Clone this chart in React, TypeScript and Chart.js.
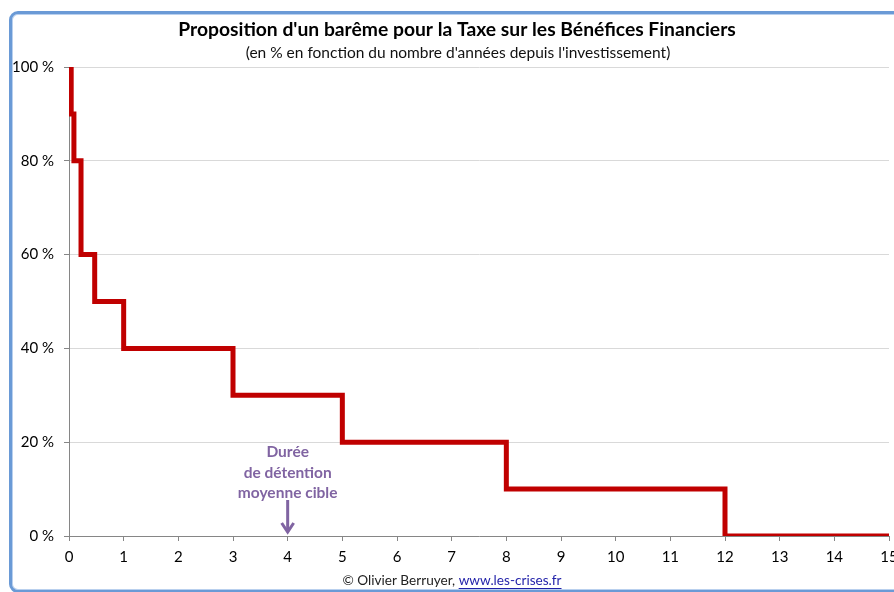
import React, { useEffect, useRef } from "react";
import { Chart, registerables } from "chart.js";
Chart.register(...registerables);

const stepYears = [0, 0.04, 0.09, 0.22, 0.47, 1, 3, 5, 8, 12, 15];
const taxRates = [100, 90, 80, 60, 50, 40, 30, 20, 10, 0, 0];
const xTicks = [0, 1, 2, 3, 4, 5, 6, 7, 8, 9, 10, 11, 12, 13, 14, 15];
const yTicks = [0, 20, 40, 60, 80, 100];
const titleText = "Proposition d'un barême pour la Taxe sur les Bénéfices Financiers";
const subtitleText = "(en % en fonction du nombre d'années depuis l'investissement)";
const annotationLines = ["Durée", "de détention", "moyenne cible"];
const annotationYear = 4;
const footerText = "© Olivier Berruyer, ";
const footerLink = "www.les-crises.fr";

const FONT = "Lato, 'Open Sans', sans-serif";

const decorPlugin = {
  id: "decor",
  afterDraw(chart: any) {
    const ctx = chart.ctx;
    ctx.save();
    ctx.textAlign = "center";
    ctx.textBaseline = "middle";
    ctx.fillStyle = "#000";
    ctx.font = `bold 19.3px ${FONT}`;
    ctx.fillText(titleText, 457, 30);
    ctx.font = `15.5px ${FONT}`;
    ctx.fillStyle = "#111";
    ctx.fillText(subtitleText, 458, 53);

    // annotation
    const xs = chart.scales.x;
    const ys = chart.scales.y;
    const ax = xs.getPixelForValue(annotationYear);
    const y0 = ys.getPixelForValue(0);
    ctx.fillStyle = "#8064A2";
    ctx.font = `bold 15.5px ${FONT}`;
    annotationLines.forEach((l, i) => ctx.fillText(l, ax, 452 + i * 20.5));
    ctx.strokeStyle = "#8064A2";
    ctx.lineWidth = 3;
    ctx.beginPath();
    ctx.moveTo(ax, 500);
    ctx.lineTo(ax, y0 - 4);
    ctx.stroke();
    ctx.beginPath();
    ctx.moveTo(ax - 6, y0 - 13);
    ctx.lineTo(ax, y0 - 4);
    ctx.lineTo(ax + 6, y0 - 13);
    ctx.stroke();

    // footer
    ctx.font = `13.6px ${FONT}`;
    const w1 = ctx.measureText(footerText).width;
    const w2 = ctx.measureText(footerLink).width;
    const start = 452 - (w1 + w2) / 2;
    ctx.textAlign = "left";
    ctx.fillStyle = "#222";
    ctx.fillText(footerText, start, 581);
    ctx.fillStyle = "#1F1FA8";
    ctx.fillText(footerLink, start + w1, 581);
    ctx.strokeStyle = "#1F1FA8";
    ctx.lineWidth = 1;
    ctx.beginPath();
    ctx.moveTo(start + w1, 588.5);
    ctx.lineTo(start + w1 + w2, 588.5);
    ctx.stroke();
    ctx.restore();
  },
};

export default function App() {
  const ref = useRef<HTMLCanvasElement>(null);
  useEffect(() => {
    const chart = new Chart(ref.current!, {
      type: "line",
      data: {
        datasets: [
          {
            data: stepYears.map((x, i) => ({ x, y: taxRates[i] })),
            borderColor: "#C00000",
            borderWidth: 5,
            stepped: "before",
            pointRadius: 0,
            fill: false,
          },
        ],
      },
      options: {
        animation: false,
        responsive: false,
        layout: { padding: { top: 67, right: 5, left: 0, bottom: 0 } },
        plugins: { legend: { display: false }, tooltip: { enabled: false }, title: { display: false } },
        scales: {
          x: {
            type: "linear",
            min: 0,
            max: 15,
            afterBuildTicks: (s: any) => {
              s.ticks = xTicks.map((v) => ({ value: v }));
            },
            afterFit: (s: any) => {
              s.height = 56;
              s.paddingLeft = 0;
              s.paddingRight = 0;
            },
            grid: { drawOnChartArea: false, tickLength: 5, tickColor: "#868686" },
            border: { color: "#868686", width: 1 },
            ticks: { padding: 7, color: "#000", font: { family: FONT, size: 15 }, maxRotation: 0, autoSkip: false },
          },
          y: {
            min: 0,
            max: 100,
            afterBuildTicks: (s: any) => {
              s.ticks = yTicks.map((v) => ({ value: v }));
            },
            afterFit: (s: any) => {
              s.width = 69;
              s.paddingTop = 0;
              s.paddingBottom = 0;
            },
            grid: { color: "#D9D9D9", tickLength: 5, tickColor: "#868686" },
            border: { color: "#868686", width: 1 },
            ticks: {
              padding: 10,
              color: "#000",
              font: { family: FONT, size: 15 },
              callback: (v: any) => `${v} %`,
            },
          },
        },
      },
      plugins: [decorPlugin],
    });
    return () => chart.destroy();
  }, []);
  return (
    <div style={{ position: "fixed", left: 0, top: 0, width: 894, height: 592, overflow: "hidden", background: "#fff" }}>
      <div
        style={{
          position: "absolute",
          left: 9,
          top: 11,
          width: 1000,
          height: 576,
          border: "3px solid #6A9AD6",
          borderRadius: 9,
          boxShadow: "inset 0 0 0 1px #B9D0EE",
        }}
      />
      <canvas ref={ref} width={894} height={592} style={{ position: "absolute", left: 0, top: 0 }} />
    </div>
  );
}
